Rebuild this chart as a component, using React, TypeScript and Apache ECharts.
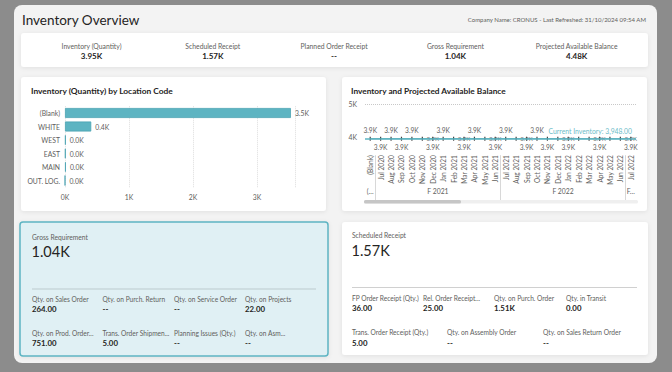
import React, { useEffect, useRef } from 'react';
import * as echarts from 'echarts';

const FONT = '"Segoe UI", Lato, sans-serif';

const pageTitle = 'Inventory Overview';
const refreshNote = 'Company Name: CRONUS - Last Refreshed: 31/10/2024 09:54 AM';

const kpiLabels = ['Inventory (Quantity)', 'Scheduled Receipt', 'Planned Order Receipt', 'Gross Requirement', 'Projected Available Balance'];
const kpiValues = ['3.95K', '1.57K', '--', '1.04K', '4.48K'];

const barTitle = 'Inventory (Quantity) by Location Code';
const locations = ['(Blank)', 'WHITE', 'WEST', 'EAST', 'MAIN', 'OUT. LOG.'];
const locationQty = [3530, 410, 12, 10, 14, 0];

const lineTitle = 'Inventory and Projected Available Balance';
const months = ['(Blank)', 'Jul 2020', 'Aug 2020', 'Sep 2020', 'Oct 2020', 'Nov 2020', 'Dec 2020', 'Jan 2021', 'Feb 2021', 'Mar 2021', 'Apr 2021', 'May 2021', 'Jun 2021', 'Jul 2021', 'Aug 2021', 'Sep 2021', 'Oct 2021', 'Nov 2021', 'Dec 2021', 'Jan 2022', 'Feb 2022', 'Mar 2022', 'Apr 2022', 'May 2022', 'Jun 2022', 'Jul 2022'];
const projectedBalance = [3948, 3948, 3948, 3948, 3948, 3948, 3948, 3948, 3948, 3948, 3948, 3948, 3948, 3948, 3948, 3948, 3948, 3948, 3948, 3948, 3948, 3948, 3948, 3948, 3948, 3948];
const currentInventory = 3948;
const labelAbove = [0, 2, 4, 7, 10, 13, 16];
const labelBelow = [1, 3, 6, 9, 12, 15, 17, 19, 22, 25];
const labelOnLine = [6, 9, 12, 15, 19, 22, 25];
const fiscalYears = ['(…', 'F 2021', 'F 2022', 'F…'];
const fiscalMonthCounts = [1, 12, 12, 1];

const grossTitle = 'Gross Requirement';
const grossTotal = '1.04K';
const grossLabels = ['Qty. on Sales Order', 'Qty. on Purch. Return', 'Qty. on Service Order', 'Qty. on Projects', 'Qty. on Prod. Order...', 'Trans. Order Shipmen...', 'Planning Issues (Qty.)', 'Qty. on Asm...'];
const grossValues = ['264.00', '--', '--', '22.00', '751.00', '5.00', '--', '--'];

const schedTitle = 'Scheduled Receipt';
const schedTotal = '1.57K';
const schedLabelsRow1 = ['FP Order Receipt (Qty.)', 'Rel. Order Receipt...', 'Qty. on Purch. Order', 'Qty. in Transit'];
const schedValuesRow1 = ['36.00', '25.00', '1.51K', '0.00'];
const schedLabelsRow2 = ['Trans. Order Receipt (Qty.)', 'Qty. on Assembly Order', 'Qty. on Sales Return Order'];
const schedValuesRow2 = ['5.00', '--', '--'];

const GREY = '#605e5c';
const DARK = '#252423';
const TEAL = '#5db4c2';

function txt(x: number, y: number, text: string, size: number, color: string, weight: string = 'normal', align: string = 'left') {
  return {
    type: 'text',
    z: 50,
    style: {
      text, x, y, fill: color, fontSize: size, fontWeight: weight, fontFamily: FONT,
      textAlign: align, align, textVerticalAlign: 'middle', verticalAlign: 'middle',
    },
  };
}

function card(x: number, y: number, w: number, h: number, fill = '#ffffff', stroke?: string) {
  return {
    type: 'rect',
    z: -5,
    shape: { x, y, width: w, height: h, r: 3 },
    style: {
      fill,
      stroke: stroke || 'rgba(0,0,0,0)',
      lineWidth: stroke ? 1.5 : 0,
      shadowBlur: 4,
      shadowColor: 'rgba(0,0,0,0.08)',
      shadowOffsetY: 1,
    },
  };
}

export default function App() {
  const ref = useRef<HTMLDivElement>(null);

  useEffect(() => {
    if (!ref.current) return;
    const chart = echarts.init(ref.current, undefined, { renderer: 'svg' });

    const graphics: any[] = [];
    graphics.push({ type: 'rect', z: -10, shape: { x: 14, y: 5, width: 643, height: 358, r: 8 }, style: { fill: '#f3f3f3' } });
    graphics.push(card(21, 33, 627, 34));
    graphics.push(card(21, 77, 305, 134));
    graphics.push(card(342, 77, 305, 134));
    graphics.push(card(20, 222, 308, 134, '#e0f0f4', TEAL));
    graphics.push(card(342, 222, 306, 133));

    graphics.push(txt(22, 19.5, pageTitle, 13.5, DARK));
    graphics.push(txt(646, 19.5, refreshNote, 6, GREY, 'normal', 'right'));

    kpiLabels.forEach((l, i) => {
      const cx = 91.5 + 121.3 * i;
      graphics.push(txt(cx, 45.5, l, 6.8, GREY, 'normal', 'center'));
      graphics.push(txt(cx, 56, kpiValues[i], 8, DARK, 'bold', 'center'));
    });

    graphics.push(txt(31, 90.5, barTitle, 8.4, DARK, 'bold'));
    graphics.push(txt(351, 90.5, lineTitle, 8.3, DARK, 'bold'));

    // scrollbar
    graphics.push({ type: 'rect', z: 5, shape: { x: 364, y: 200, width: 274, height: 3.5, r: 1.5 }, style: { fill: '#efefef' } });
    graphics.push({ type: 'rect', z: 6, shape: { x: 364, y: 200, width: 97, height: 3.5, r: 1.5 }, style: { fill: '#c6c6c6' } });

    // Gross requirement card
    graphics.push(txt(32, 236.5, grossTitle, 6.7, GREY));
    graphics.push(txt(31.5, 251, grossTotal, 14.5, DARK));
    graphics.push({ type: 'line', z: 10, shape: { x1: 32, y1: 289, x2: 316, y2: 289 }, style: { stroke: '#bccbce', lineWidth: 1 } });
    const gCols = [32, 102.5, 174, 245];
    grossLabels.forEach((l, i) => {
      const col = i % 4;
      const row = Math.floor(i / 4);
      const y0 = row === 0 ? 299 : 332.5;
      graphics.push(txt(gCols[col], y0, l, 6.6, GREY));
      graphics.push(txt(gCols[col], y0 + 10, grossValues[i], 7.8, DARK, 'bold'));
    });

    // Scheduled receipt card
    graphics.push(txt(352, 235, schedTitle, 6.7, GREY));
    graphics.push(txt(351.5, 250, schedTotal, 14.5, DARK));
    graphics.push({ type: 'line', z: 10, shape: { x1: 352, y1: 287.5, x2: 637, y2: 287.5 }, style: { stroke: '#d0d0d0', lineWidth: 1 } });
    const sCols1 = [352, 423, 494, 566];
    schedLabelsRow1.forEach((l, i) => {
      graphics.push(txt(sCols1[i], 297.8, l, 6.6, GREY));
      graphics.push(txt(sCols1[i], 308.3, schedValuesRow1[i], 7.8, DARK, 'bold'));
    });
    const sCols2 = [352, 447, 543];
    schedLabelsRow2.forEach((l, i) => {
      graphics.push(txt(sCols2[i], 332, l, 6.6, GREY));
      graphics.push(txt(sCols2[i], 342.7, schedValuesRow2[i], 7.8, DARK, 'bold'));
    });

    // fiscal groupings
    const centers: number[] = [];
    const bounds: number[] = [];
    let start = 0;
    fiscalMonthCounts.forEach((c, i) => {
      centers.push(start + (c - 1) / 2);
      start += c;
      if (i < fiscalMonthCounts.length - 1) bounds.push(start - 0.5);
    });

    const kFmt = (v: number) => (v / 1000).toFixed(1) + 'K';

    const option: any = {
      animation: false,
      backgroundColor: '#8c8c8c',
      textStyle: { fontFamily: FONT },
      graphic: { elements: graphics },
      grid: [
        { left: 65, top: 106.25, width: 230.4, height: 81, containLabel: false },
        { left: 365, top: 104, width: 271, height: 46.2, containLabel: false },
      ],
      xAxis: [
        {
          gridIndex: 0, type: 'value', min: 0, max: 3600, interval: 1000,
          axisLine: { show: false }, axisTick: { show: false },
          axisLabel: { fontSize: 6.8, color: GREY, margin: 6, showMaxLabel: false, formatter: (v: number) => v / 1000 + 'K' },
          splitLine: { show: true, lineStyle: { type: 'dotted', color: '#dcdcdc' } },
        },
        {
          gridIndex: 1, type: 'category', data: months, boundaryGap: true,
          axisLine: { show: false }, axisTick: { show: false },
          axisLabel: { rotate: 90, interval: 0, fontSize: 6.6, color: GREY, margin: 5 },
        },
        {
          gridIndex: 1, type: 'value', min: -0.5, max: 25.5, position: 'bottom', offset: 5,
          axisLine: { show: false },
          splitLine: { show: false },
          axisTick: { show: true, customValues: bounds, length: 45, lineStyle: { color: '#d8d8d8' } },
          axisLabel: {
            customValues: centers, margin: 32, fontSize: 6.8, color: GREY,
            formatter: (v: number) => {
              const i = centers.findIndex((c) => Math.abs(c - v) < 1e-6);
              return i >= 0 ? fiscalYears[i] : '';
            },
          },
        },
      ],
      yAxis: [
        {
          gridIndex: 0, type: 'category', data: locations, inverse: true,
          axisLine: { show: false }, axisTick: { show: false },
          axisLabel: { fontSize: 6.8, color: GREY, margin: 5 },
        },
        {
          gridIndex: 1, type: 'value', min: 3600, max: 5000, interval: 200,
          axisLine: { show: false }, axisTick: { show: false },
          splitLine: { show: false },
          axisLabel: {
            fontSize: 6.8, color: GREY, margin: 8,
            formatter: (v: number) => (v === 4000 || v === 5000 ? v / 1000 + 'K' : ''),
          },
        },
      ],
      series: [
        {
          type: 'bar', xAxisIndex: 0, yAxisIndex: 0, data: locationQty, barWidth: 10,
          itemStyle: { color: TEAL, borderColor: '#4ba3b2', borderWidth: 0.8 },
          label: { show: true, position: 'right', distance: 4, fontSize: 6.8, color: GREY, formatter: (p: any) => kFmt(p.value) },
        },
        {
          type: 'line', xAxisIndex: 1, yAxisIndex: 1,
          data: projectedBalance.map((v, i) => ({
            value: v,
            label: {
              show: labelAbove.includes(i) || labelBelow.includes(i),
              position: labelAbove.includes(i) ? 'top' : 'bottom',
            },
          })),
          symbol: 'rect', symbolSize: [1.2, 4], showSymbol: true,
          itemStyle: { color: '#444444' },
          lineStyle: { color: '#4a9fad', width: 1 },
          label: { fontSize: 6.6, color: GREY, distance: 3, formatter: (p: any) => kFmt(p.value) },
          markLine: {
            silent: true, symbol: ['none', 'none'],
            data: [
              { yAxis: 5000, lineStyle: { type: 'dotted', color: '#c8c8c8', width: 1 }, label: { show: false } },
              {
                yAxis: currentInventory, lineStyle: { type: 'solid', color: TEAL, width: 1.5 },
                label: { show: true, position: 'insideEndTop', distance: 4, fontSize: 6.8, color: '#6cbcc8', formatter: 'Current Inventory: 3,948.00' },
              },
            ],
          },
          z: 3,
        },
        {
          type: 'scatter', xAxisIndex: 1, yAxisIndex: 1,
          data: projectedBalance.map((v, i) => (labelOnLine.includes(i) ? v : '-')),
          symbolSize: 1, itemStyle: { color: 'rgba(0,0,0,0)' },
          label: { show: true, position: 'inside', fontSize: 6.2, color: '#555555', formatter: (p: any) => kFmt(p.value) },
          z: 4,
        },
      ],
    };

    chart.setOption(option);
    return () => chart.dispose();
  }, []);

  return <div ref={ref} style={{ position: 'fixed', left: 0, top: 0, width: 672, height: 372 }} />;
}
